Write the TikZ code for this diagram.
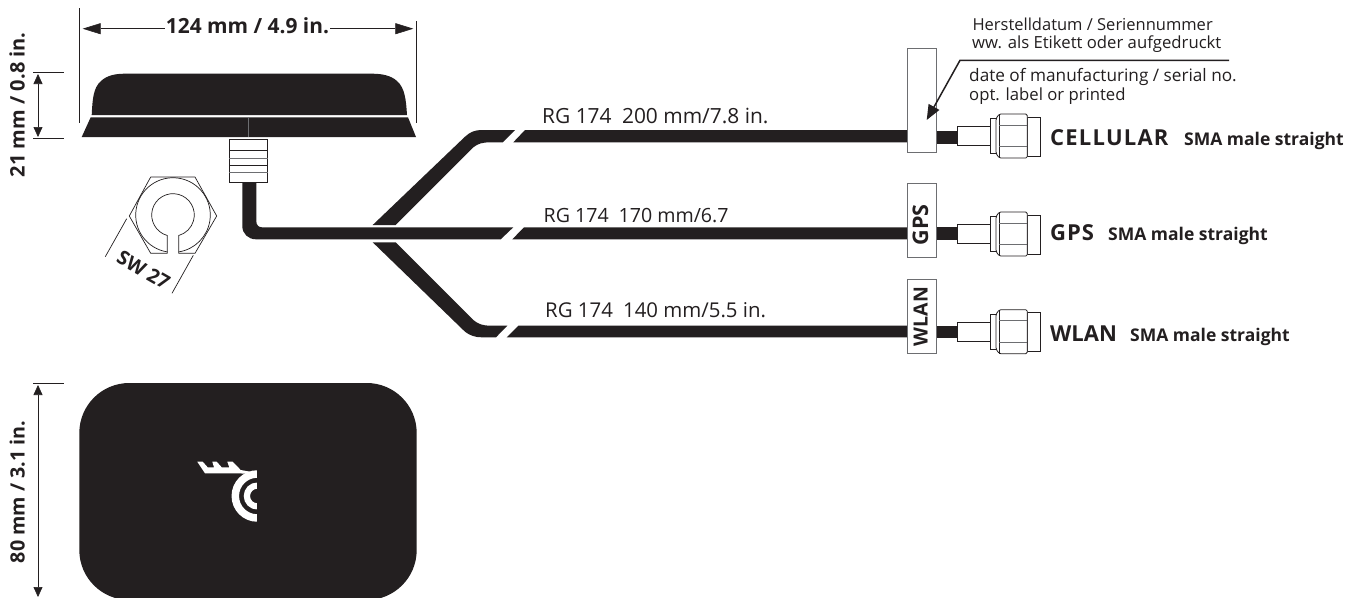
\documentclass[tikz,border=0pt]{standalone}
\usepackage{fontspec}
\setmainfont{Open Sans}
\usetikzlibrary{arrows.meta}
\definecolor{ink}{HTML}{231F20}
\definecolor{edgegray}{HTML}{6D6E71}
\tikzset{
  solid ink/.style={fill=ink,draw=none},
  thin ink/.style={draw=ink,line width=0.7pt},
  conn/.style={draw=ink,line width=0.8pt,fill=white},
  gray rule/.style={draw=edgegray,line width=0.7pt},
  label box/.style={draw=edgegray,line width=0.8pt,fill=white,minimum width=29.4pt,inner sep=0pt,outer sep=0pt},
  dim big/.style={draw=ink,line width=0.6pt,{Triangle[length=18pt,width=11pt]}-{Triangle[length=18pt,width=11pt]}},
  dim small/.style={draw=ink,line width=0.6pt,{Triangle[length=10pt,width=9pt]}-{Triangle[length=10pt,width=9pt]}},
  boldtxt/.style={font=\fontsize{#1}{#1}\selectfont\bfseries,text=ink,inner sep=0pt},
  lighttxt/.style={font=\fontsize{#1}{#1}\selectfont,text=ink,inner sep=0pt},
}
\newcommand{\smaconn}[1]{%
  \begin{scope}[shift={(0,#1)}]
    \draw[conn] (957.3,-9.5) rectangle (990.7,9.5);
    \draw[conn] (990.7,-17.5) rectangle (996,17.5);
    \draw[conn] (1027.3,-19) rectangle (1040,20);
    \draw[conn,rounded corners=1.5pt] (996,-17.5) -- (999.3,-22) -- (1027.3,-22) -- (1027.3,22) -- (999.3,22) -- (996,17.5) -- cycle;
    \draw[conn] (999.3,-22) -- (999.3,22);
    \draw[gray rule] (999.3,-11) -- (1027.3,-11);
    \draw[gray rule] (999.3,10.5) -- (1027.3,10.5);
  \end{scope}}
\begin{document}
\begin{tikzpicture}[x=1pt,y=-1pt]
\clip (0,0) rectangle (1362,597);
\fill[white] (0,0) rectangle (1362,597);

% top view of the antenna
\fill[solid ink] (91.7,115) .. controls (92.5,100) and (93,88) .. (101,81) .. controls (107,75.5) and (115,73.7) .. (125,73.7)
  -- (372,73.7) .. controls (382,73.7) and (391,75.5) .. (397,81) .. controls (405,88) and (406,100) .. (407,115) -- cycle;
\fill[solid ink] (90.7,117.3) -- (408,117.3) -- (416,137) -- (81.7,137) -- cycle;
\draw[gray rule,line width=0.5pt] (248.3,117.3) -- (248.3,137);

% thread
\draw[draw=ink,line width=0.7pt] (229.3,139) rectangle (267.7,182);
\draw[draw=ink,line width=0.6pt] (229.3,150) -- (267.7,150) (229.3,165) -- (267.7,165);
\draw[gray rule] (229.3,158) -- (267.7,158) (229.3,172.7) -- (267.7,172.7);

% nut
\draw[thin ink,line join=round] (167.3,253.3) -- (150.7,253.3) -- (129.3,216) -- (150.7,177) -- (195,177) -- (216.7,216) -- (195,253.3) -- (178.7,253.3);
\draw[thin ink] (167.3,253.3) -- (167.3,235.5) arc[start angle=105.5,end angle=434.5,radius=21.3] -- (178.7,253.3);
\draw[thin ink] (167.3,251.9) arc[start angle=98.8,end angle=441.2,radius=37.3];
\coordinate (swa1) at (126.7,218.7); \coordinate (swa2) at (105.3,256.7);
\coordinate (swb1) at (193.3,255.3); \coordinate (swb2) at (172,293.3);
\draw[thin ink] (swa1) -- (swa2) (swb1) -- (swb2);
\node[boldtxt=19.5,rotate=-30] (sw) at (143.5,270) {SW 27};

% dimension 124 mm
\coordinate (wl) at (82.7,28.7); \coordinate (wr) at (413.3,28.7);
\draw[thin ink] (79.3,8) -- (79.3,123) (416.3,21) -- (416.3,123);
\draw[dim big] (wl) -- (wr);
\node[boldtxt=20.9,fill=white,inner xsep=1pt,inner ysep=2pt,anchor=base] (wlabel) at (247.5,33.5) {124 mm / 4.9 in.};

% dimension 21 mm
\coordinate (ht) at (38,74); \coordinate (hb) at (38,137);
\draw[thin ink] (33.3,72.7) -- (63.7,72.7) (33.3,138.3) -- (63.7,138.3);
\draw[dim small] (ht) -- (hb);
\node[boldtxt=20,rotate=90,anchor=base] (hlabel) at (24.5,104.7) {21 mm / 0.8 in.};

% cables
\fill[solid ink] (372.7,225) -- (465,136.7) .. controls (470,132) and (475,130) .. (481.7,130) -- (515,130) -- (502.7,142.3) -- (490,142.3) .. controls (483,142.3) and (478,143.5) .. (473.3,147.3) -- (395.7,225) -- cycle;
\fill[solid ink] (525,130) -- (920,130) -- (920,142.3) -- (513.3,142.3) -- cycle;
\fill[solid ink] (242.3,182) -- (256.3,182) -- (256.3,221) .. controls (256.3,225) and (258.5,227.3) .. (262,227.3) -- (513.3,227.3) -- (500.7,239.3) -- (256,239.3) .. controls (248,239.3) and (242.3,233.5) .. (242.3,226) -- cycle;
\fill[solid ink] (524,227.3) -- (920,227.3) -- (920,239.3) -- (512.3,239.3) -- cycle;
\fill[solid ink] (372.7,242.3) -- (465,331.7) .. controls (470,335.5) and (475,337.3) .. (481.7,337.3) -- (496,337.3) -- (507.3,325.7) -- (490,325.7) .. controls (483,325.7) and (478,324) .. (473.3,320) -- (395.7,242.3) -- cycle;
\fill[solid ink] (518.3,325.7) -- (920,325.7) -- (920,337.3) -- (506.7,337.3) -- cycle;

\node[lighttxt=20.9,anchor=base west] (lc) at (542,123.3) {RG 174\hspace{0.5em}200 mm/7.8 in.};
\node[lighttxt=19.6,anchor=base west] (lg) at (543.5,222.7) {RG 174\hspace{0.5em}170 mm/6.7};
\node[lighttxt=20.4,anchor=base west] (lw) at (545,317.7) {RG 174\hspace{0.5em}140 mm/5.5 in.};

% labels on cables and leads to connectors
\node[label box,minimum height=103.7pt] (boxc) at (922,100.2) {};
\node[label box,minimum height=74pt] (boxg) at (922,220.3) {};
\node[label box,minimum height=74.4pt] (boxw) at (922,316.5) {};
\node[boldtxt=21.5,rotate=90] (tg) at (920.5,225) {GPS};
\node[boldtxt=19.5,rotate=90] (tw) at (920.5,316.5) {WLAN};
\coordinate (leadc) at (957.3,137); \coordinate (leadg) at (957.3,233.7); \coordinate (leadw) at (957.3,331.8);
\draw[draw=ink,line width=13pt] (boxc.east |- leadc) -- (leadc);
\draw[draw=ink,line width=12.7pt] (boxg.east |- leadg) -- (leadg);
\draw[draw=ink,line width=11.7pt] (boxw.east |- leadw) -- (leadw);
\smaconn{136}
\smaconn{234}
\smaconn{331.7}

\node[boldtxt=22,anchor=base west] (cc) at (1050,145) {\addfontfeatures{LetterSpace=5.5}CELLULAR};
\node[boldtxt=17.5,anchor=base west] (cs) at (1184,145) {SMA male straight};
\node[boldtxt=22,anchor=base west] (gc) at (1050,240.7) {\addfontfeatures{LetterSpace=4.5}GPS};
\node[boldtxt=17.5,anchor=base west] (gs) at (1108,240.7) {SMA male straight};
\node[boldtxt=22,anchor=base west] (wc) at (1050,341.7) {WLAN};
\node[boldtxt=17.5,anchor=base west] (ws) at (1130,341.7) {SMA male straight};

% manufacturing note
\coordinate (na) at (1229,60.3); \coordinate (nb) at (960,60.3); \coordinate (nc) at (926.7,120);
\draw[draw=ink,line width=1.5pt,-{Triangle[length=15pt,width=12pt]}] (na) -- (nb) -- (nc);
\node[lighttxt=16.5,anchor=base west] (n1) at (972.3,30) {Herstelldatum / Seriennummer};
\node[lighttxt=16.7,anchor=base west] (n2) at (972,48) {ww. als Etikett oder aufgedruckt};
\node[lighttxt=17.2,anchor=base west] (n3) at (969,81.7) {date of manufacturing / serial no.};
\node[lighttxt=16.7,anchor=base west] (n4) at (969,100) {opt. label or printed};

% bottom view
\fill[solid ink,rounded corners=50pt] (79.3,383) rectangle (416.7,600);
\fill[white] (197.3,461.7) -- (202.7,461.7) -- (207.7,467.3) -- (214,467.3) -- (212.3,461.7) -- (216.7,461.7) -- (221.7,467.3) -- (229.3,467.3) -- (227.3,461.7) -- (232.7,461.7) -- (240.7,470) -- (250,471.7) -- (250,474) -- (238.3,473.3) -- (205,473.3) -- cycle;
\draw[white,line width=7.5pt] (257.3,474) arc[start angle=270,end angle=90,radius=22];
\draw[white,line width=6.2pt] (257.3,485.6) arc[start angle=270,end angle=90,radius=10.4];
\fill[ink] (257.3,465) rectangle (270,525);

% dimension 80 mm
\coordinate (bt) at (38,385); \coordinate (bb) at (38,597);
\draw[thin ink] (33.3,383) -- (63.7,383);
\draw[dim small] (bt) -- (bb);
\node[boldtxt=19.7,rotate=90,anchor=base] (blabel) at (24.5,492) {80 mm / 3.1 in.};
\end{tikzpicture}
\end{document}
